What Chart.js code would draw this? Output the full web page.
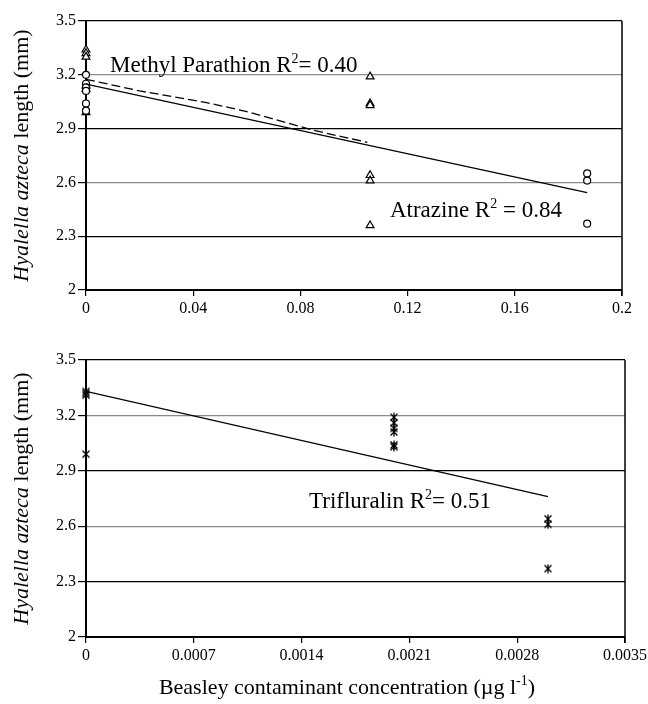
<!DOCTYPE html>
<html>
<head>
<meta charset="utf-8">
<script src="https://cdn.jsdelivr.net/npm/chart.js@4/dist/chart.umd.min.js"></script>
<style>
  body { margin: 0; background: #fff; }
  canvas { position: absolute; left: 0; }
  #topChart { top: 0; }
  #bottomChart { top: 340px; }
</style>
</head>
<body>
<canvas id="topChart" width="648" height="340"></canvas>
<canvas id="bottomChart" width="648" height="364"></canvas>
<script>
// ---- data ----
var yTicks = [2, 2.3, 2.6, 2.9, 3.2, 3.5];
var yTickLabels = ['2', '2.3', '2.6', '2.9', '3.2', '3.5'];

var topXTicks = [0, 0.04, 0.08, 0.12, 0.16, 0.2];
var topXTickLabels = ['0', '0.04', '0.08', '0.12', '0.16', '0.2'];
var bottomXTicks = [0, 0.0007, 0.0014, 0.0021, 0.0028, 0.0035];
var bottomXTickLabels = ['0', '0.0007', '0.0014', '0.0021', '0.0028', '0.0035'];

// methyl parathion (circles)
var mpConc = [0, 0, 0, 0, 0, 0, 0.187, 0.187, 0.187];
var mpLength = [3.20, 3.15, 3.13, 3.11, 3.04, 3.00, 2.65, 2.61, 2.37];
var mpFitConc = [0, 0.02, 0.045, 0.06, 0.085, 0.105];
var mpFitLength = [3.175, 3.11, 3.045, 2.995, 2.89, 2.823];

// atrazine (triangles)
var atConc = [0, 0, 0, 0, 0, 0, 0.106, 0.106, 0.106, 0.106, 0.106, 0.106];
var atLength = [3.34, 3.32, 3.30, 3.14, 3.12, 2.99, 3.19, 3.04, 3.03, 2.64, 2.61, 2.36];
var atFitConc = [0, 0.187];
var atFitLength = [3.148, 2.543];

// trifluralin (asterisks)
var tfConc = [0, 0, 0, 0, 0.002, 0.002, 0.002, 0.002, 0.002, 0.002, 0.003, 0.003, 0.003];
var tfLength = [3.33, 3.32, 3.31, 2.99, 3.19, 3.16, 3.13, 3.11, 3.04, 3.03, 2.64, 2.61, 2.37];
var tfFitConc = [0, 0.003];
var tfFitLength = [3.33, 2.76];

var SERIF = "'Liberation Serif', 'Times New Roman', serif";

function pts(xs, ys) {
    return xs.map(function(x, i) { return {x: x, y: ys[i]}; });
}

// excel-like asterisk marker
var star = document.createElement('canvas');
star.width = 10; star.height = 10;
(function() {
    var c = star.getContext('2d');
    c.strokeStyle = '#000';
    c.lineWidth = 1.3;
    c.beginPath();
    c.moveTo(1.5, 1.5); c.lineTo(8.5, 8.5);
    c.moveTo(8.5, 1.5); c.lineTo(1.5, 8.5);
    c.moveTo(5, 0.5); c.lineTo(5, 9.5);
    c.stroke();
})();

function drawLabel(ctx, x, y, name, r2, gap) {
    ctx.save();
    ctx.fillStyle = '#000';
    ctx.textBaseline = 'alphabetic';
    ctx.font = '23px ' + SERIF;
    var t1 = name + ' R';
    ctx.fillText(t1, x, y);
    x += ctx.measureText(t1).width;
    ctx.font = '14px ' + SERIF;
    ctx.fillText('2', x, y - 9);
    x += ctx.measureText('2').width;
    ctx.font = '23px ' + SERIF;
    ctx.fillText((gap ? ' ' : '') + '= ' + r2, x, y);
    ctx.restore();
}

function drawYTitle(ctx, area) {
    ctx.save();
    ctx.translate(22, (area.top + area.bottom) / 2);
    ctx.rotate(-Math.PI / 2);
    ctx.fillStyle = '#000';
    ctx.textBaseline = 'middle';
    var italic = 'italic 22px ' + SERIF, normal = '22px ' + SERIF;
    ctx.font = italic;
    var w1 = ctx.measureText('Hyalella azteca').width;
    ctx.font = normal;
    var w2 = ctx.measureText(' length (mm)').width;
    var x = -(w1 + w2) / 2;
    ctx.font = italic;
    ctx.fillText('Hyalella azteca', x, 0);
    ctx.font = normal;
    ctx.fillText(' length (mm)', x + w1, 0);
    ctx.restore();
}

var framePlugin = {
    id: 'frame',
    afterDraw: function(chart, args, opts) {
        var ctx = chart.ctx, a = chart.chartArea;
        ctx.save();
        ctx.strokeStyle = '#000';
        ctx.lineWidth = 1.5;
        ctx.beginPath();
        ctx.moveTo(a.right, a.top);
        ctx.lineTo(a.right, a.bottom + 6);
        ctx.stroke();
        ctx.restore();
        drawYTitle(ctx, a);
        var xs = chart.scales.x, ys = chart.scales.y;
        (opts.labels || []).forEach(function(l) {
            drawLabel(ctx, xs.getPixelForValue(l.x), ys.getPixelForValue(l.y), l.name, l.r2, l.gap);
        });
        if (opts.xTitle) {
            ctx.save();
            ctx.fillStyle = '#000';
            ctx.font = '22px ' + SERIF;
            var t1 = 'Beasley contaminant concentration (\u00b5g l';
            var w1 = ctx.measureText(t1).width;
            ctx.font = '14px ' + SERIF;
            var w2 = ctx.measureText('-1').width;
            ctx.font = '22px ' + SERIF;
            var w3 = ctx.measureText(')').width;
            var x = 347 - (w1 + w2 + w3) / 2, y = 354;
            ctx.fillText(t1, x, y);
            ctx.font = '14px ' + SERIF;
            ctx.fillText('-1', x + w1, y - 9);
            ctx.font = '22px ' + SERIF;
            ctx.fillText(')', x + w1 + w2, y);
            ctx.restore();
        }
    }
};

function makeScales(xMax, xTicks, xLabels, xHeight) {
    return {
        x: {
            type: 'linear', min: 0, max: xMax,
            afterBuildTicks: function(s) { s.ticks = xTicks.map(function(v) { return {value: v}; }); },
            afterFit: function(s) { s.height = xHeight; s.paddingRight = 0; s.paddingLeft = 0; },
            grid: { drawOnChartArea: false, tickLength: 6, color: '#000', lineWidth: 1.2 },
            border: { color: '#000', width: 2 },
            ticks: {
                padding: 3, color: '#000', maxRotation: 0,
                font: { family: SERIF, size: 16 },
                callback: function(v, i) { return xLabels[i]; }
            }
        },
        y: {
            type: 'linear', min: 2, max: 3.5,
            afterBuildTicks: function(s) { s.ticks = yTicks.map(function(v) { return {value: v}; }); },
            afterFit: function(s) { s.width = 86; },
            grid: {
                tickLength: 8, tickColor: '#000', lineWidth: 1.2,
                color: function(c) { return (c.index === 2 || c.index === 4) ? '#8a8a8a' : '#000'; }
            },
            border: { color: '#000', width: 2 },
            ticks: {
                padding: 2, color: '#000',
                font: { family: SERIF, size: 16 },
                callback: function(v, i) { return yTickLabels[i]; }
            }
        }
    };
}

var common = {
    responsive: false,
    animation: false,
    plugins: { legend: { display: false }, tooltip: { enabled: false } }
};

new Chart(document.getElementById('topChart').getContext('2d'), {
    type: 'scatter',
    data: {
        datasets: [
            { data: pts(mpFitConc, mpFitLength), showLine: true, borderColor: '#000', borderWidth: 1.3,
              borderDash: [9, 4], pointRadius: 0, fill: false },
            { data: pts(atFitConc, atFitLength), showLine: true, borderColor: '#000', borderWidth: 1.3,
              pointRadius: 0, fill: false },
            { data: pts(mpConc, mpLength), pointStyle: 'circle', pointRadius: 3.5, clip: false,
              borderColor: '#000', borderWidth: 1.2, backgroundColor: '#fff' },
            { data: pts(atConc, atLength), pointStyle: 'triangle', pointRadius: 4.5, clip: false,
              borderColor: '#000', borderWidth: 1.2, backgroundColor: '#fff' }
        ]
    },
    options: Object.assign({}, common, {
        layout: { padding: { top: 21, right: 26, left: 0, bottom: 0 } },
        scales: makeScales(0.2, topXTicks, topXTickLabels, 50),
        plugins: Object.assign({}, common.plugins, {
            frame: { labels: [
                { x: 0.009, y: 3.216, name: 'Methyl Parathion', r2: '0.40', gap: false },
                { x: 0.1134, y: 2.409, name: 'Atrazine', r2: '0.84', gap: true }
            ] }
        })
    }),
    plugins: [framePlugin]
});

new Chart(document.getElementById('bottomChart').getContext('2d'), {
    type: 'scatter',
    data: {
        datasets: [
            { data: pts(tfFitConc, tfFitLength), showLine: true, borderColor: '#000', borderWidth: 1.3,
              pointRadius: 0, fill: false },
            { data: pts(tfConc, tfLength), pointStyle: star, pointRadius: 4, clip: false }
        ]
    },
    options: Object.assign({}, common, {
        layout: { padding: { top: 20, right: 23, left: 0, bottom: 0 } },
        scales: makeScales(0.0035, bottomXTicks, bottomXTickLabels, 67),
        plugins: Object.assign({}, common.plugins, {
            frame: {
                xTitle: true,
                labels: [{ x: 0.001448, y: 2.699, name: 'Trifluralin', r2: '0.51', gap: false }]
            }
        })
    }),
    plugins: [framePlugin]
});
</script>
</body>
</html>
